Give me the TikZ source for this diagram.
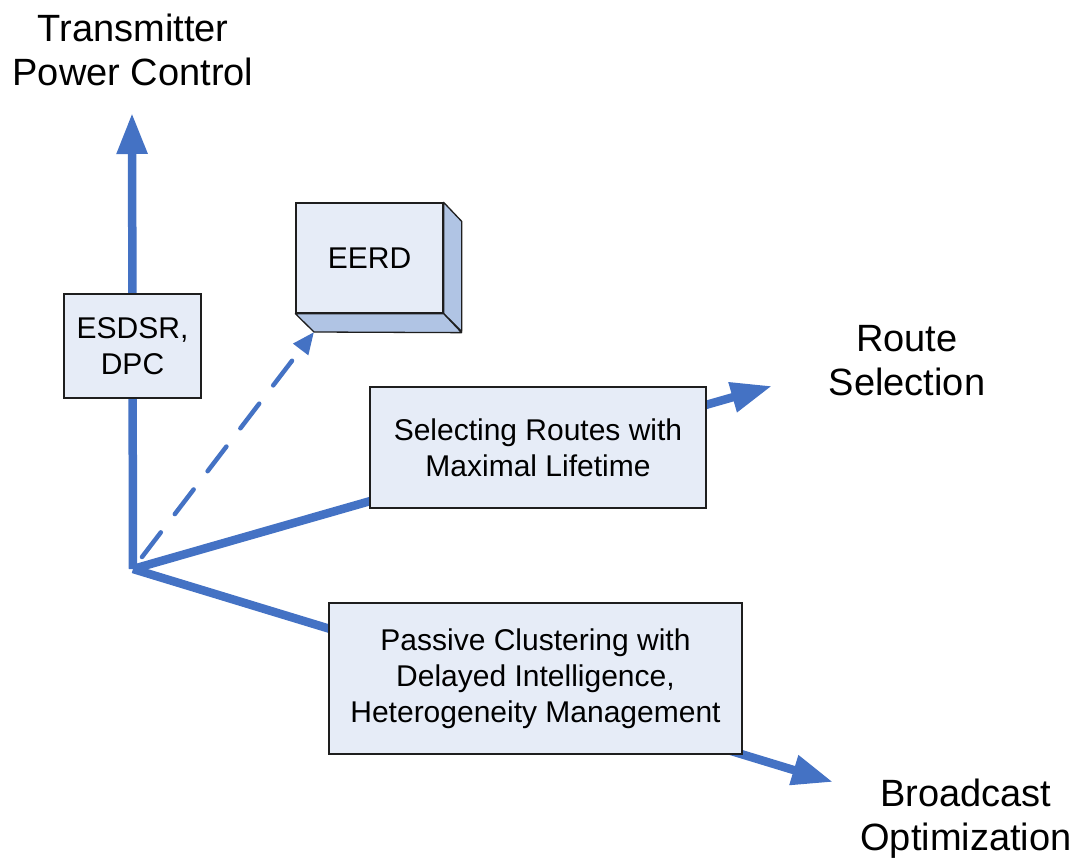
\documentclass[tikz,border=0pt]{standalone}
\usepackage{fontspec}
\setmainfont{Liberation Sans}
\usetikzlibrary{arrows.meta}
\definecolor{lineblue}{RGB}{68,114,196}
\definecolor{boxfill}{RGB}{230,236,247}
\definecolor{sidefill}{RGB}{176,196,228}
\definecolor{boxline}{RGB}{30,30,30}
\tikzset{
  axisline/.style={draw=lineblue, line width=8.5pt, -{Triangle[length=41pt,width=29pt]}},
  dashline/.style={draw=lineblue, line width=4.5pt, line cap=round, dash pattern=on 31pt off 23pt, -{Triangle[length=22pt,width=18pt]}},
  methodbox/.style={draw=boxline, fill=boxfill, line width=1.3pt, inner sep=0pt, align=center, font=\fontsize{30}{36}\selectfont},
  axislabel/.style={align=center, inner sep=0pt, font=\fontsize{38}{44}\selectfont},
}
\begin{document}
\begin{tikzpicture}[x=1pt,y=-1pt]
\useasboundingbox (0,0) rectangle (1080,861);
% coordinates
\coordinate (O) at (133,569);
\coordinate (tpcTip) at (132,113);
\coordinate (rsTip) at (772,386);
\coordinate (boTip) at (833,782);
\coordinate (dStart) at (142,557);
% axes
\draw[axisline] (O) -- (tpcTip);
\draw[axisline] (O) -- (rsTip);
\draw[axisline] (O) -- (boTip);
% boxes
\node[methodbox, minimum width=137pt, minimum height=104pt] (esdsr) at (132.5,346) {ESDSR,\\DPC};
\node[methodbox, minimum width=336pt, minimum height=121pt] (routes) at (538,447.5) {Selecting Routes with\\Maximal Lifetime};
\node[methodbox, minimum width=413pt, minimum height=151pt] (passive) at (535.5,678.5) {Passive Clustering with\\Delayed Intelligence,\\Heterogeneity Management};
% EERD 3D box
\node[methodbox, minimum width=147pt, minimum height=110pt] (eerd) at (369.5,258) {EERD};
\coordinate (eerdC) at (314,332);
\filldraw[fill=sidefill, draw=boxline, line width=1.3pt, line join=round] (eerd.north east) -- ++(18,19) -- ++(0,110) -- (eerd.south east) -- cycle;
\filldraw[fill=sidefill, draw=boxline, line width=1.3pt, line join=round] (eerd.south west) -- (eerd.south east) -- ++(18,19) -- (eerdC) -- cycle;
\draw[dashline] (dStart) -- (eerdC);
% labels
\node[axislabel] (tpcLabel) at (133,50) {Transmitter\\Power Control};
\node[axislabel] (rsLabel) at (907,361) {Route\\Selection};
\node[axislabel] (boLabel) at (966,819) {Broadcast\\Optimization};
\end{tikzpicture}
\end{document}
